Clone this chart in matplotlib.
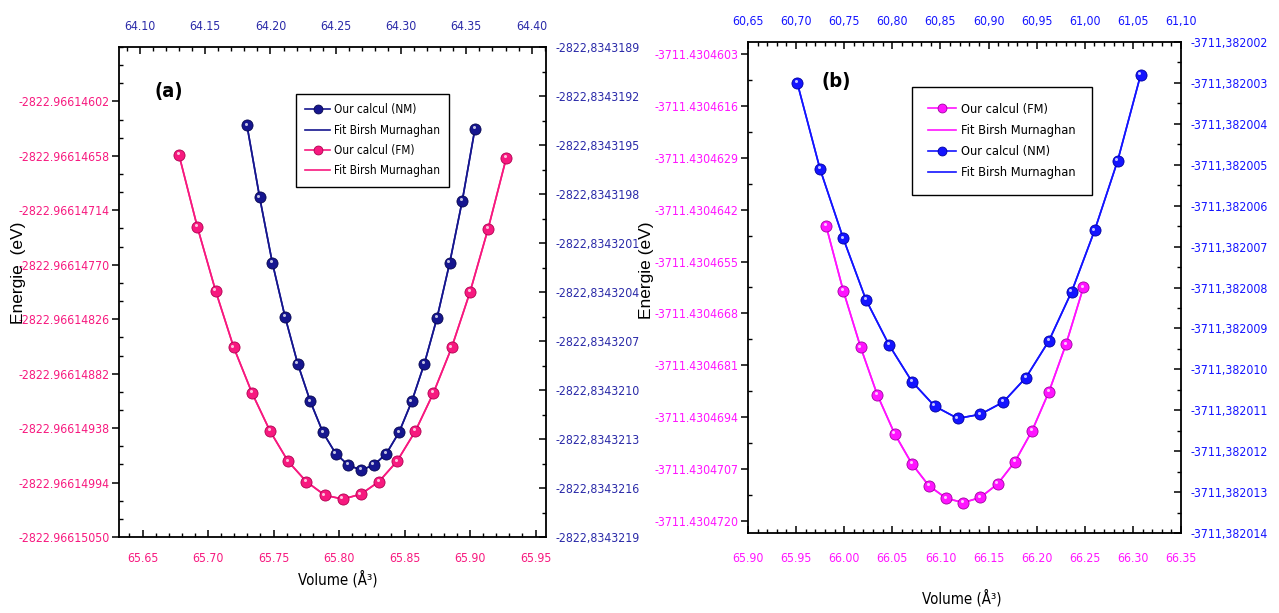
import numpy as np
import matplotlib
matplotlib.use('Agg')
import matplotlib.pyplot as plt
from matplotlib import font_manager
from matplotlib.ticker import FixedLocator, FuncFormatter
from matplotlib.transforms import offset_copy

# narrow font like the original (Arial Narrow) if one is installed
installed = {f.name for f in font_manager.fontManager.ttflist}
condensed = {f.name for f in font_manager.fontManager.ttflist if f.stretch in ('condensed', 'semi-condensed')}
if 'Liberation Sans Narrow' in installed:
    NARROW, SCALE, STRETCH = 'Liberation Sans Narrow', 1.05, 'normal'
elif 'DejaVu Sans' in condensed:
    NARROW, SCALE, STRETCH = 'DejaVu Sans', 0.8, 'condensed'
else:
    NARROW, SCALE, STRETCH = 'Liberation Sans', 0.8, 'normal'
plt.rcParams['font.family'] = [NARROW, 'DejaVu Sans']
plt.rcParams['font.stretch'] = STRETCH

# ---- panel (a) ----
a_fm_vol = [65.6778, 65.6918, 65.7058, 65.7196, 65.7336, 65.7473, 65.7610, 65.7750, 65.7891, 65.8028,
            65.8166, 65.8305, 65.8443, 65.8583, 65.8720, 65.8860, 65.9000, 65.9138, 65.9277]
a_fm_e = [-2822.96614657, -2822.96614731, -2822.96614797, -2822.96614855, -2822.96614902, -2822.96614941,
          -2822.96614972, -2822.96614993, -2822.96615007, -2822.96615011, -2822.96615006, -2822.96614993,
          -2822.96614972, -2822.96614941, -2822.96614902, -2822.96614855, -2822.96614798, -2822.96614733,
          -2822.96614660]
a_nm_vol = [64.1820, 64.1917, 64.2014, 64.2111, 64.2209, 64.2305, 64.2402, 64.2500, 64.2596, 64.2693,
            64.2791, 64.2887, 64.2984, 64.3082, 64.3178, 64.3275, 64.3373, 64.3469, 64.3566]
a_nm_e = [-2822.83431938, -2822.83431982, -2822.83432022, -2822.83432055, -2822.83432084, -2822.83432107,
          -2822.83432126, -2822.83432139, -2822.83432146, -2822.83432149, -2822.83432146, -2822.83432139,
          -2822.83432126, -2822.83432107, -2822.83432084, -2822.83432056, -2822.83432022, -2822.83431984,
          -2822.83431940]
a_bottom_ticks = [65.65, 65.70, 65.75, 65.80, 65.85, 65.90, 65.95]
a_top_ticks = [64.10, 64.15, 64.20, 64.25, 64.30, 64.35, 64.40]
a_left_ticks = [-2822.96614602, -2822.96614658, -2822.96614714, -2822.96614770, -2822.96614826,
                -2822.96614882, -2822.96614938, -2822.96614994, -2822.96615050]
a_right_ticks = [-2822.8343189, -2822.8343192, -2822.8343195, -2822.8343198, -2822.8343201, -2822.8343204,
                 -2822.8343207, -2822.8343210, -2822.8343213, -2822.8343216, -2822.8343219]

# ---- panel (b) ----
b_fm_vol = [65.9811, 65.9990, 66.0171, 66.0344, 66.0525, 66.0704, 66.0881, 66.1061, 66.1238, 66.1414,
            66.1595, 66.1775, 66.1952, 66.2128, 66.2305, 66.2485]
b_fm_e = [-3711.43046460, -3711.43046623, -3711.43046765, -3711.43046884, -3711.43046982, -3711.43047057,
          -3711.43047112, -3711.43047143, -3711.43047154, -3711.43047141, -3711.43047107, -3711.43047051,
          -3711.43046974, -3711.43046876, -3711.43046757, -3711.43046615]
b_nm_vol = [60.7012, 60.7248, 60.7490, 60.7726, 60.7965, 60.8204, 60.8440, 60.8679, 60.8914, 60.9153,
            60.9389, 60.9628, 60.9864, 61.0103, 61.0342, 61.0581]
b_nm_e = [-3711.3820030, -3711.3820051, -3711.3820068, -3711.3820083, -3711.3820094, -3711.3820103,
          -3711.3820109, -3711.3820112, -3711.3820111, -3711.3820108, -3711.3820102, -3711.3820093,
          -3711.3820081, -3711.3820066, -3711.3820049, -3711.3820028]
b_bottom_ticks = [65.90, 65.95, 66.00, 66.05, 66.10, 66.15, 66.20, 66.25, 66.30, 66.35]
b_top_ticks = [60.65, 60.70, 60.75, 60.80, 60.85, 60.90, 60.95, 61.00, 61.05, 61.10]
b_left_ticks = [-3711.4304603, -3711.4304616, -3711.4304629, -3711.4304642, -3711.4304655,
                -3711.4304668, -3711.4304681, -3711.4304694, -3711.4304707, -3711.4304720]
b_right_ticks = [-3711.382002, -3711.382003, -3711.382004, -3711.382005, -3711.382006, -3711.382007,
                 -3711.382008, -3711.382009, -3711.382010, -3711.382011, -3711.382012, -3711.382013,
                 -3711.382014]

PINK = '#f7197f'
NAVY = '#16168f'
MAGENTA = '#ff14ff'
BLUE = '#1414ff'
TS = 11 * SCALE   # tick label size


def minors(majors, n):
    step = (majors[1] - majors[0]) / (n + 1)
    return majors[0] + step * np.arange(-(n + 1), len(majors) * (n + 1) + 1)


def fmt(n, comma=False):
    def f(v, pos):
        s = f'{v:.{n}f}'
        return s.replace('.', ',') if comma else s
    return FuncFormatter(f)


def curve(ax, x, y, color, edge):
    fit, = ax.plot(x, y, '-', color=color, lw=1.2, zorder=2)
    calc, = ax.plot(x, y, '-o', color=color, lw=1.2, ms=8, mec=edge, mew=0.6, zorder=3)
    hl = offset_copy(ax.transData, fig=ax.figure, x=-1.0, y=1.2, units='points')
    ax.plot(x, y, 'o', color='white', ms=2.2, alpha=0.75, mew=0, transform=hl, zorder=4)
    return calc, fit


def panel(pos, xlim_b, xlim_t, ylim_l, ylim_r, ticks, tick_fmt, colors, nminor, bpad):
    ax = fig.add_axes(pos)
    ax2 = fig.add_axes(pos, frameon=False)
    ax2.xaxis.tick_top()
    ax2.yaxis.tick_right()
    ax.set_xlim(*xlim_b)
    ax2.set_xlim(*xlim_t)
    ax.set_ylim(*ylim_l)
    ax2.set_ylim(*ylim_r)
    bt, tt, lt, rt = ticks
    bf, tf, lf, rf = tick_fmt
    cb, ct, cl, cr = colors
    nb, nt, nl, nr = nminor
    ax.xaxis.set_major_locator(FixedLocator(bt))
    ax.xaxis.set_minor_locator(FixedLocator(minors(bt, nb)))
    ax2.xaxis.set_major_locator(FixedLocator(tt))
    ax2.xaxis.set_minor_locator(FixedLocator(minors(tt, nt)))
    ax.yaxis.set_major_locator(FixedLocator(lt))
    ax.yaxis.set_minor_locator(FixedLocator(minors(lt, nl)))
    ax2.yaxis.set_major_locator(FixedLocator(rt))
    ax2.yaxis.set_minor_locator(FixedLocator(minors(rt, nr)))
    ax.xaxis.set_major_formatter(bf)
    ax2.xaxis.set_major_formatter(tf)
    ax.yaxis.set_major_formatter(lf)
    ax2.yaxis.set_major_formatter(rf)
    for s in ax.spines.values():
        s.set_linewidth(1.3)
    ax.tick_params(axis='x', which='major', direction='in', length=5, width=1.1,
                   labelsize=TS, labelcolor=cb, pad=bpad)
    ax.tick_params(axis='x', which='minor', direction='in', length=3, width=1.0)
    ax2.tick_params(axis='x', which='major', direction='in', length=5, width=1.1,
                    labelsize=TS, labelcolor=ct, pad=10)
    ax2.tick_params(axis='x', which='minor', direction='in', length=3, width=1.0)
    ax.tick_params(axis='y', which='major', direction='out', length=5, width=1.1,
                   labelsize=TS, labelcolor=cl, pad=2)
    ax.tick_params(axis='y', which='minor', direction='in', length=3, width=1.0)
    ax2.tick_params(axis='y', which='major', direction='in', length=5, width=1.1,
                    labelsize=TS, labelcolor=cr, pad=7)
    ax2.tick_params(axis='y', which='minor', direction='in', length=3, width=1.0)
    return ax, ax2


fig = plt.figure(figsize=(12.79, 6.13), dpi=100)
W, H = 1279, 613


def fpos(l, t, r, b):
    return [l / W, 1 - b / H, (r - l) / W, (b - t) / H]


# panel (a)
axa, axa2 = panel(fpos(119, 47, 546, 537), (65.632, 65.958), (64.084, 64.411),
                  (-2822.96615050, -2822.96614546), (-2822.8343219, -2822.8343189),
                  (a_bottom_ticks, a_top_ticks, a_left_ticks, a_right_ticks),
                  (fmt(2), fmt(2), fmt(8), fmt(7, True)),
                  (PINK, '#2a2aa8', PINK, '#2a2aa8'), (4, 4, 2, 1), 11)
a_fm = curve(axa, a_fm_vol, a_fm_e, PINK, '#b00050')
a_nm = curve(axa2, a_nm_vol, a_nm_e, NAVY, '#080850')
fig.legend([a_nm[0], a_nm[1], a_fm[0], a_fm[1]],
           ['Our calcul (NM)', 'Fit Birsh Murnaghan', 'Our calcul (FM)', 'Fit Birsh Murnaghan'],
           loc='upper left', bbox_to_anchor=(296 / W, 1 - 94 / H), borderaxespad=0,
           fontsize=10.6 * SCALE, frameon=True, fancybox=False, edgecolor='black', framealpha=1,
           handlelength=2.1, handletextpad=0.3, labelspacing=0.62, borderpad=0.8, markerscale=0.8)

# panel (b)
axb, axb2 = panel(fpos(748, 42, 1181, 533), (65.90, 66.35), (60.65, 61.10),
                  (-3711.4304723, -3711.4304600), (-3711.382014, -3711.382002),
                  (b_bottom_ticks, b_top_ticks, b_left_ticks, b_right_ticks),
                  (fmt(2), fmt(2, True), fmt(7), fmt(6, True)),
                  (MAGENTA, BLUE, MAGENTA, BLUE), (4, 4, 1, 1), 14)
b_fm = curve(axb, b_fm_vol, b_fm_e, MAGENTA, '#a000a0')
b_nm = curve(axb2, b_nm_vol, b_nm_e, BLUE, '#0000a0')
fig.legend([b_fm[0], b_fm[1], b_nm[0], b_nm[1]],
           ['Our calcul (FM)', 'Fit Birsh Murnaghan', 'Our calcul (NM)', 'Fit Birsh Murnaghan'],
           loc='upper left', bbox_to_anchor=(912 / W, 1 - 87 / H), borderaxespad=0,
           fontsize=11.5 * SCALE, frameon=True, fancybox=False, edgecolor='black', framealpha=1,
           handlelength=2.2, handletextpad=0.4, labelspacing=0.63, borderpad=1.25, markerscale=0.8)

# labels
fig.text(169 / W, 1 - 92 / H, '(a)', fontsize=18 * SCALE, fontweight='bold', ha='center', va='center')
fig.text(836 / W, 1 - 82 / H, '(b)', fontsize=18 * SCALE, fontweight='bold', ha='center', va='center')
fig.text(19 / W, 1 - 273 / H, 'Energie  (eV)', rotation=90, fontsize=12.5, ha='center', va='center',
         family=['Liberation Sans', 'DejaVu Sans'], stretch='normal')
fig.text(647 / W, 1 - 270 / H, 'Energie (eV)', rotation=90, fontsize=12.5, ha='center', va='center',
         family=['Liberation Sans', 'DejaVu Sans'], stretch='normal')
fig.text(338 / W, 1 - 579 / H, 'Volume (Å³)', fontsize=13.5 * SCALE, ha='center', va='center')
fig.text(962 / W, 1 - 598 / H, 'Volume (Å³)', fontsize=13.5 * SCALE, ha='center', va='center')

fig.savefig('out.png', dpi=100)
